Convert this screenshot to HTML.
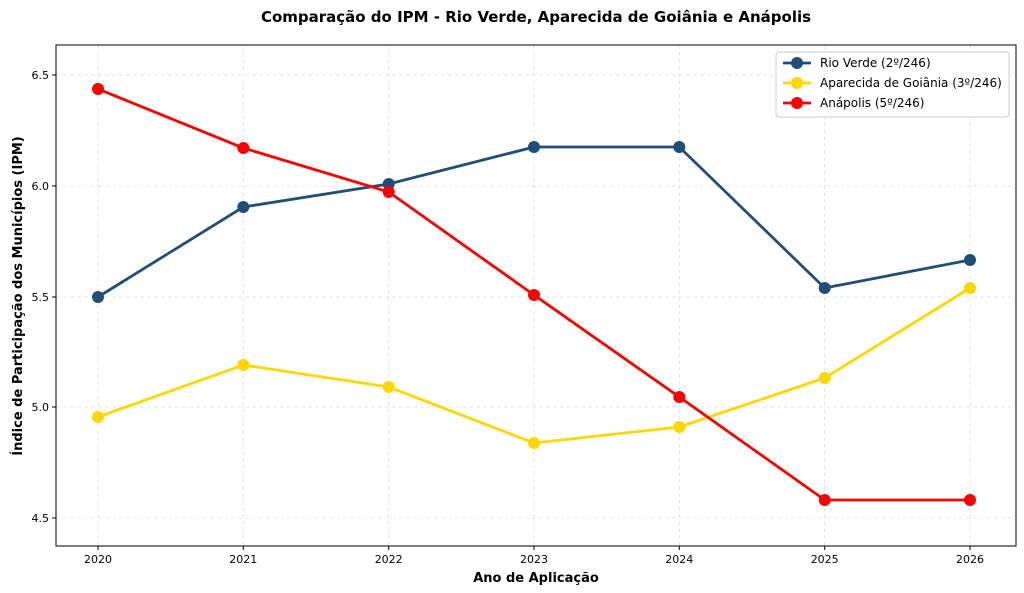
<!DOCTYPE html>
<html><head><meta charset="utf-8"><style>
html,body{margin:0;padding:0;background:#fff;}
svg{display:block;font-family:"DejaVu Sans","Liberation Sans",sans-serif;}
</style></head><body>
<svg width="1024" height="593" viewBox="0 0 1024 593" xmlns="http://www.w3.org/2000/svg">
<rect width="1024" height="593" fill="#fff"/>
<text x="536" y="22" text-anchor="middle" font-size="15" font-weight="bold" fill="#000">Comparação do IPM - Rio Verde, Aparecida de Goiânia e Anápolis</text>
<g stroke="#ddd" stroke-width="0.8" stroke-dasharray="4,3">
<line x1="98" y1="45" x2="98" y2="546"/><line x1="243.3" y1="45" x2="243.3" y2="546"/><line x1="388.7" y1="45" x2="388.7" y2="546"/><line x1="534" y1="45" x2="534" y2="546"/><line x1="679.3" y1="45" x2="679.3" y2="546"/><line x1="824.7" y1="45" x2="824.7" y2="546"/><line x1="970" y1="45" x2="970" y2="546"/>
<line x1="56" y1="75" x2="1016" y2="75"/><line x1="56" y1="186" x2="1016" y2="186"/><line x1="56" y1="297" x2="1016" y2="297"/><line x1="56" y1="407" x2="1016" y2="407"/><line x1="56" y1="518" x2="1016" y2="518"/>
</g>
<rect x="56" y="45" width="960" height="501" fill="none" stroke="#000" stroke-width="1"/>
<g stroke="#000" stroke-width="1">
<line x1="98" y1="546" x2="98" y2="550"/><line x1="243.3" y1="546" x2="243.3" y2="550"/><line x1="388.7" y1="546" x2="388.7" y2="550"/><line x1="534" y1="546" x2="534" y2="550"/><line x1="679.3" y1="546" x2="679.3" y2="550"/><line x1="824.7" y1="546" x2="824.7" y2="550"/><line x1="970" y1="546" x2="970" y2="550"/>
<line x1="52" y1="75" x2="56" y2="75"/><line x1="52" y1="186" x2="56" y2="186"/><line x1="52" y1="297" x2="56" y2="297"/><line x1="52" y1="407" x2="56" y2="407"/><line x1="52" y1="518" x2="56" y2="518"/>
</g>
<g font-size="11" fill="#000" text-anchor="middle">
<text x="98" y="563">2020</text><text x="243.3" y="563">2021</text><text x="388.7" y="563">2022</text><text x="534" y="563">2023</text><text x="679.3" y="563">2024</text><text x="824.7" y="563">2025</text><text x="970" y="563">2026</text>
</g>
<g font-size="11" fill="#000" text-anchor="end">
<text x="49" y="79">6.5</text><text x="49" y="190">6.0</text><text x="49" y="301">5.5</text><text x="49" y="411">5.0</text><text x="49" y="522">4.5</text>
</g>
<text x="536" y="582" text-anchor="middle" font-size="13" font-weight="bold">Ano de Aplicação</text>
<text transform="translate(22,296) rotate(-90)" text-anchor="middle" font-size="13" font-weight="bold">Índice de Participação dos Municípios (IPM)</text>
<g fill="none" stroke-width="2.8">
<polyline stroke="#1f4e79" points="98,297 243.3,207 388.7,184 534,147 679.3,147 824.7,288 970,260"/>
<polyline stroke="#ffd700" points="98,417 243.3,365 388.7,387 534,443 679.3,427 824.7,378 970,288"/>
<polyline stroke="#ff0000" points="98,89 243.3,148 388.7,192 534,295 679.3,397 824.7,500 970,500"/>
</g>
<g fill="#1f4e79"><circle cx="98" cy="297" r="6"/><circle cx="243.3" cy="207" r="6"/><circle cx="388.7" cy="184" r="6"/><circle cx="534" cy="147" r="6"/><circle cx="679.3" cy="147" r="6"/><circle cx="824.7" cy="288" r="6"/><circle cx="970" cy="260" r="6"/></g>
<g fill="#ffd700"><circle cx="98" cy="417" r="6"/><circle cx="243.3" cy="365" r="6"/><circle cx="388.7" cy="387" r="6"/><circle cx="534" cy="443" r="6"/><circle cx="679.3" cy="427" r="6"/><circle cx="824.7" cy="378" r="6"/><circle cx="970" cy="288" r="6"/></g>
<g fill="#ff0000"><circle cx="98" cy="89" r="6"/><circle cx="243.3" cy="148" r="6"/><circle cx="388.7" cy="192" r="6"/><circle cx="534" cy="295" r="6"/><circle cx="679.3" cy="397" r="6"/><circle cx="824.7" cy="500" r="6"/><circle cx="970" cy="500" r="6"/></g>
<rect x="776" y="52" width="233" height="65" rx="3" fill="#fff" stroke="#ccc"/>
<g stroke-width="2.8"><line x1="783" y1="63" x2="811" y2="63" stroke="#1f4e79"/><line x1="783" y1="83" x2="811" y2="83" stroke="#ffd700"/><line x1="783" y1="103" x2="811" y2="103" stroke="#ff0000"/></g>
<circle cx="797" cy="63" r="6" fill="#1f4e79"/><circle cx="797" cy="83" r="6" fill="#ffd700"/><circle cx="797" cy="103" r="6" fill="#ff0000"/>
<g font-size="12" fill="#000"><text x="820" y="67">Rio Verde (2º/246)</text><text x="820" y="87">Aparecida de Goiânia (3º/246)</text><text x="820" y="107">Anápolis (5º/246)</text></g>
</svg>
</body></html>
